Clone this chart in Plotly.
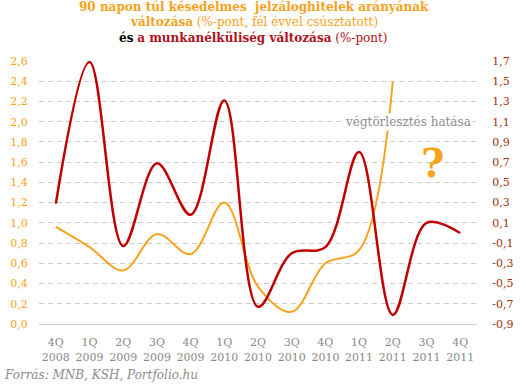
import plotly.graph_objects as go

quarters = ["4Q<br>2008", "1Q<br>2009", "2Q<br>2009", "3Q<br>2009", "4Q<br>2009",
            "1Q<br>2010", "2Q<br>2010", "3Q<br>2010", "4Q<br>2010", "1Q<br>2011",
            "2Q<br>2011", "3Q<br>2011", "4Q<br>2011"]
# 90+ day delinquent mortgage ratio change (left axis, %-pont, shifted half year)
mortgage_change = [0.96, 0.76, 0.53, 0.89, 0.69, 1.20, 0.37, 0.12, 0.60, 0.73, 2.40, None, None]
# unemployment change (right axis, %-pont)
unemp_change = [0.29, 1.69, -0.13, 0.69, 0.18, 1.31, -0.73, -0.20, -0.14, 0.80, -0.81, 0.10, 0.00]

left_ticks = [0.0, 0.2, 0.4, 0.6, 0.8, 1.0, 1.2, 1.4, 1.6, 1.8, 2.0, 2.2, 2.4, 2.6]
left_labels = ["0,0", "0,2", "0,4", "0,6", "0,8", "1,0", "1,2", "1,4", "1,6", "1,8", "2,0", "2,2", "2,4", "2,6"]
right_ticks = [-0.9, -0.7, -0.5, -0.3, -0.1, 0.1, 0.3, 0.5, 0.7, 0.9, 1.1, 1.3, 1.5, 1.7]
right_labels = ["-0,9", "-0,7", "-0,5", "-0,3", "-0,1", "0,1", "0,3", "0,5", "0,7", "0,9", "1,1", "1,3", "1,5", "1,7"]

title_lines = [
    "<b>90 napon túl késedelmes  jelzáloghitelek arányának</b>",
    "<b>változása</b> (%-pont, fél évvel csúsztatott)",
    "<span style='color:#000000'><b>és</b></span> <b>a munkanélküliség változása</b> (%-pont)",
]

ORANGE = "#F7A21B"
RED = "#C00000"
TITLE_RED = "#B01020"
FONT = "DejaVu Serif"

xs = list(range(len(quarters)))

fig = go.Figure()
fig.add_trace(go.Scatter(x=xs, y=mortgage_change, mode="lines",
                         line=dict(color=ORANGE, width=2, shape="spline", smoothing=1.0),
                         connectgaps=False, yaxis="y", showlegend=False, hoverinfo="skip"))
fig.add_trace(go.Scatter(x=xs, y=unemp_change, mode="lines",
                         line=dict(color=RED, width=2.5, shape="spline", smoothing=1.0),
                         yaxis="y2", showlegend=False, hoverinfo="skip"))

title_colors = [ORANGE, ORANGE, TITLE_RED]
title_shifts = [54, 39, 23]
annotations = []
for txt, col, sh in zip(title_lines, title_colors, title_shifts):
    annotations.append(dict(text=txt, x=0.49, y=1, xref="paper", yref="paper",
                            xanchor="center", yanchor="middle", yshift=sh, showarrow=False,
                            font=dict(family=FONT, size=12, color=col)))

annotations += [
    dict(text="végtörlesztés hatása", x=10.45, y=2.0, xref="x", yref="y",
         showarrow=False, bgcolor="white", font=dict(family=FONT, size=12, color="#8C8C8C")),
    dict(text="<b>?</b>", x=11.17, y=1.6, xref="x", yref="y", showarrow=False,
         font=dict(family=FONT, size=40, color=ORANGE)),
    dict(text="<i>Forrás: MNB, KSH, Portfolio.hu</i>", x=0, y=0, xref="paper", yref="paper",
         xanchor="left", yanchor="bottom", showarrow=False, xshift=-37, yshift=-60,
         font=dict(family=FONT, size=12, color="#8C8C8C")),
]

fig.update_layout(
    width=526, height=387,
    margin=dict(l=39, r=49, t=61, b=63),
    paper_bgcolor="white", plot_bgcolor="white",
    font=dict(family=FONT, size=11, color="#888888"),
    xaxis=dict(range=[-0.5, 12.5], tickvals=xs, ticktext=quarters, showgrid=False,
               zeroline=False, showline=True, linecolor="#CCCCCC", linewidth=1,
               ticks="outside", ticklen=8, tickcolor="rgba(0,0,0,0)", automargin=False,
               tickfont=dict(family=FONT, size=11, color="#8A8A8A")),
    yaxis=dict(range=[0, 2.6], tickvals=left_ticks, ticktext=left_labels,
               showgrid=True, gridcolor="#CCCCCC", griddash="5px,4px", gridwidth=1,
               zeroline=False, ticks="outside", ticklen=8, tickcolor="rgba(0,0,0,0)",
               automargin=False,
               tickfont=dict(family=FONT, size=11, color=ORANGE)),
    yaxis2=dict(range=[-0.9, 1.7], tickvals=right_ticks, ticktext=right_labels,
                overlaying="y", side="right", showgrid=False, zeroline=False,
                ticks="outside", ticklen=12, tickcolor="rgba(0,0,0,0)", automargin=False,
                tickfont=dict(family=FONT, size=11, color="#A0300A")),
    annotations=annotations,
)

fig.write_html("out.html", config={"displayModeBar": False},
               post_script="document.body.style.margin='0';")
